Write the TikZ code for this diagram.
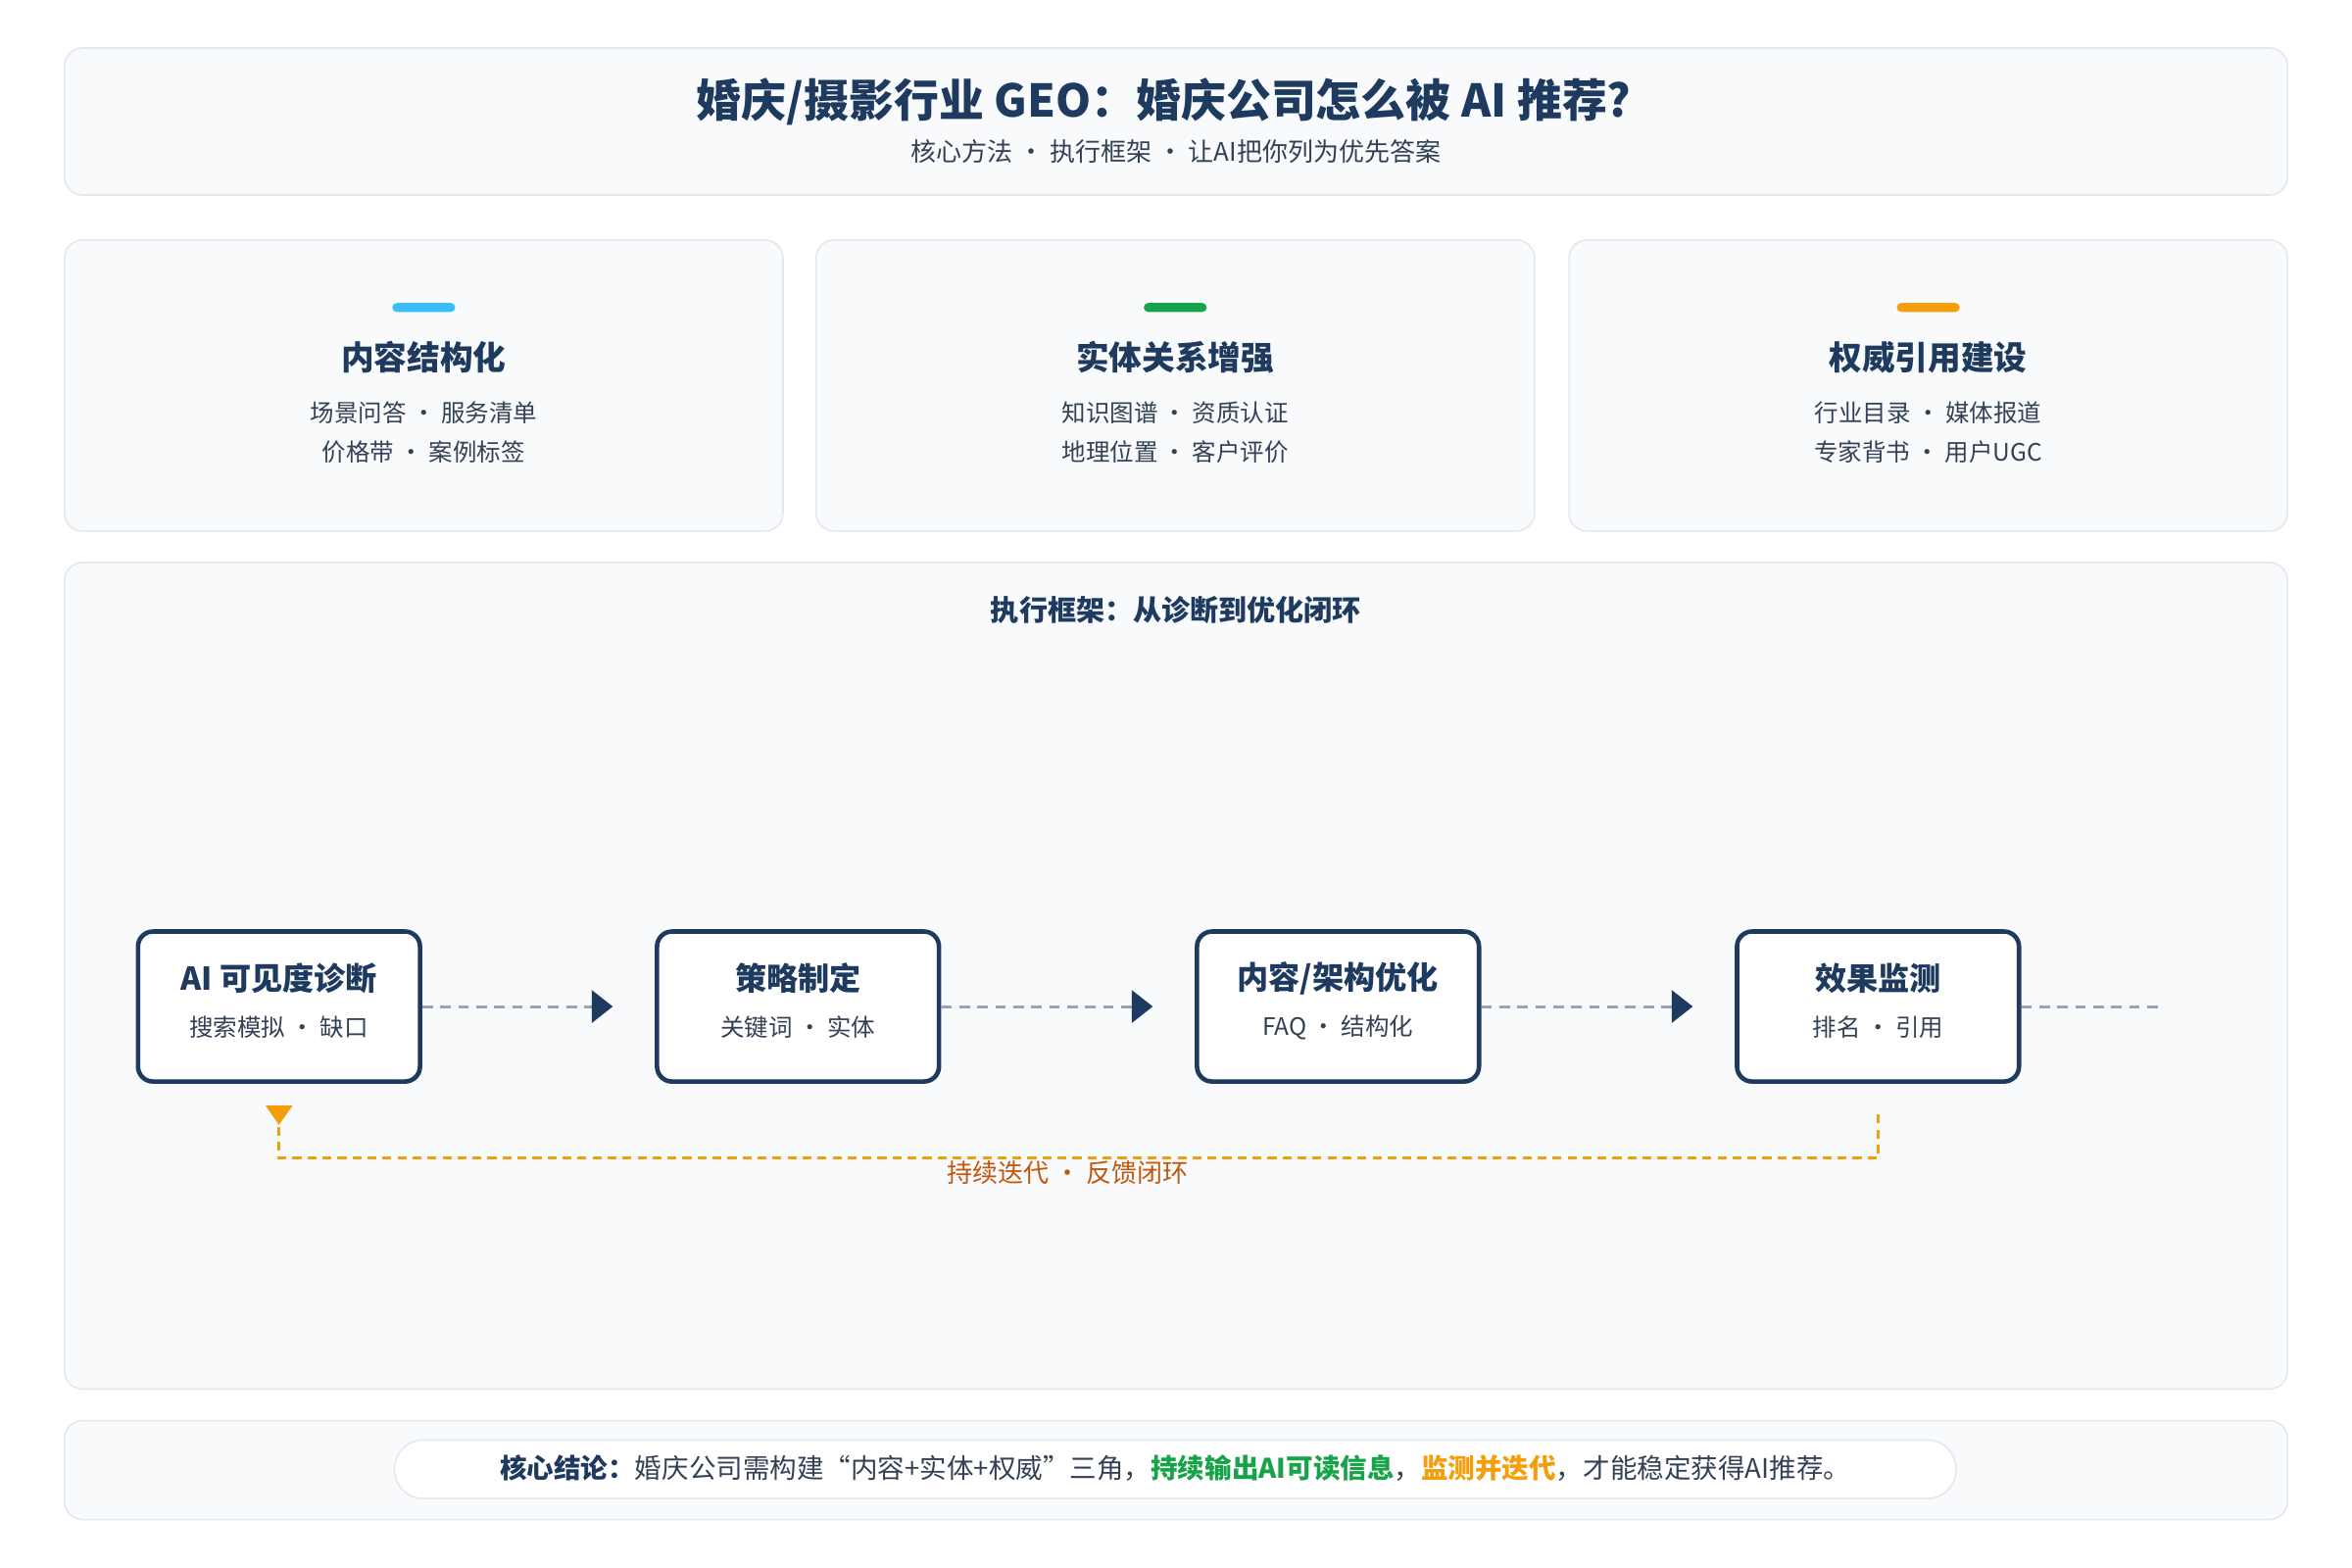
\documentclass[tikz,border=0pt]{standalone}
\usepackage{fontspec}
\setmainfont{Noto Sans CJK SC}
\usetikzlibrary{arrows.meta}
\definecolor{navy}{HTML}{1E3A5F}
\definecolor{txt}{HTML}{334155}
\definecolor{bd}{HTML}{E2E8F0}
\definecolor{panel}{HTML}{F8FAFC}
\definecolor{gr}{HTML}{94A3B8}
\definecolor{org}{HTML}{F59E0B}
\definecolor{orgt}{HTML}{C2570C}
\definecolor{grn}{HTML}{16A34A}
\definecolor{sky}{HTML}{38BDF8}
\newcommand{\fs}[1]{\fontsize{#1}{#1}\selectfont}
\begin{document}
\begin{tikzpicture}[x=1pt,y=-1pt,
 panelbox/.style={draw=bd,fill=panel,rounded corners=12pt,line width=1pt},
 stepbox/.style={draw=navy,fill=white,line width=3pt,rounded corners=10pt,minimum width=188pt,minimum height=100pt,inner sep=0pt},
 stitle/.style={text=navy,font=\fs{21}\bfseries},
 ssub/.style={text=txt,font=\fs{16}},
 ctitle/.style={text=navy,font=\fs{22}\bfseries},
 cline/.style={text=txt,font=\fs{16}},
 flow/.style={draw=gr,line width=2pt,dash pattern=on 7pt off 5pt},
 tipn/.style={fill=navy,draw=none},
]
\useasboundingbox (0,0) rectangle (1568,1045);
\fill[white] (0,0) rectangle (1568,1045);
% header
\draw[panelbox] (43,32) rectangle (1525,130);
\node[text=navy,font=\fs{30}\bfseries] (title) at (776,68) {婚庆/摄影行业 GEO：婚庆公司怎么被 AI 推荐?};
\node[text=txt,font=\fs{17}] (sub) at (784,101) {核心方法 · 执行框架 · 让AI把你列为优先答案};
% cards
\foreach \x/\c/\t/\a/\b [count=\i] in {43/sky/内容结构化/场景问答 · 服务清单/价格带 · 案例标签,
  544/grn/实体关系增强/知识图谱 · 资质认证/地理位置 · 客户评价,
  1046/org/权威引用建设/行业目录 · 媒体报道/专家背书 · 用户UGC}{
  \draw[panelbox] (\x,160) rectangle ++(479,194);
  \fill[\c,rounded corners=3pt] (\x+218.5,202) rectangle ++(42,6);
  \node[ctitle] (ct\i) at (\x+239.5,238) {\t};
  \node[cline] (ca\i) at (\x+239.5,275) {\a};
  \node[cline] (cb\i) at (\x+239.5,301) {\b};
}
% framework panel
\draw[panelbox] (43,375) rectangle (1525,926);
\node[text=navy,font=\fs{19}\bfseries] (fh) at (784,407) {执行框架：从诊断到优化闭环};
\node[stepbox] (s1) at (186,671) {}; \node[stitle] at (186,652) {AI 可见度诊断}; \node[ssub] at (186,685) {搜索模拟 · 缺口};
\node[stepbox] (s2) at (532,671) {}; \node[stitle] at (532,652) {策略制定}; \node[ssub] at (532,685) {关键词 · 实体};
\node[stepbox] (s3) at (892,671) {}; \node[stitle] at (892,652) {内容/架构优化}; \node[ssub] at (892,685) {FAQ · 结构化};
\node[stepbox] (s4) at (1252,671) {}; \node[stitle] at (1252,652) {效果监测}; \node[ssub] at (1252,685) {排名 · 引用};
\foreach \a/\b in {s1/s2,s2/s3,s3/s4}{
  \coordinate (t\a) at ([xshift=-28pt]\b.west);
  \draw[flow] (\a.east) -- ([xshift=-14pt]t\a);
  \fill[tipn] ([xshift=-14pt,yshift=-11pt]t\a) -- (t\a) -- ([xshift=-14pt,yshift=11pt]t\a) -- cycle;
}
\coordinate (endf) at (1440,671);
\draw[flow] (s4.east) -- (endf);
% loop
\coordinate (la) at (1252,743);
\coordinate (lb) at (186,737);
\draw[org,line width=2pt,dash pattern=on 6pt off 4pt] (la) -- (1252,772) -- (186,772) -- (186,750);
\fill[org] (177,737) -- (195,737) -- (186,750) -- cycle;
\node[text=orgt,font=\fs{17}] (loop) at (712,782) {持续迭代 · 反馈闭环};
% bottom
\draw[panelbox] (43,947) rectangle (1525,1013);
\draw[draw=bd,fill=white,line width=1pt,rounded corners=19pt] (263,960) rectangle (1304,999);
\node[text=txt,font=\fs{18}] (concl) at (783.5,979) {{\color{navy}\bfseries 核心结论：}婚庆公司需构建“内容+实体+权威”三角，{\color{grn}\bfseries 持续输出AI可读信息}，{\color{org}\bfseries 监测并迭代}，才能稳定获得AI推荐。};
\end{tikzpicture}
\end{document}
